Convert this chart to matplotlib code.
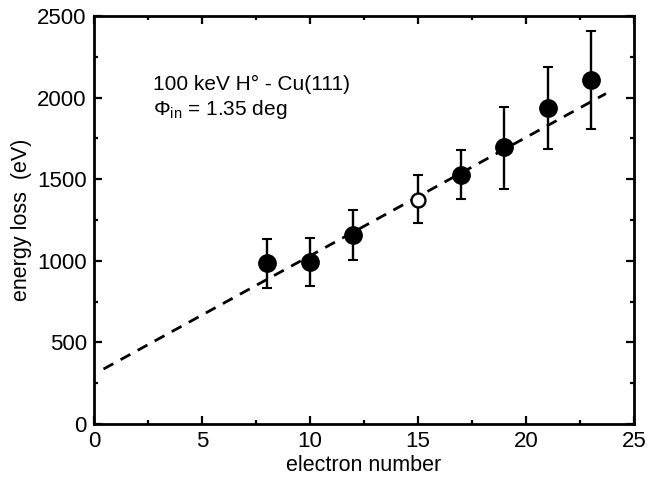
import matplotlib
matplotlib.use("Agg")
import matplotlib.pyplot as plt
import numpy as np
from matplotlib.ticker import MultipleLocator

# data
electrons = [8, 10, 12, 15, 17, 19, 21, 23]
eloss = [985, 995, 1155, 1375, 1525, 1695, 1935, 2110]
err_lo = [150, 150, 150, 145, 145, 255, 250, 300]
err_hi = [150, 145, 155, 150, 155, 245, 250, 300]
is_open = [False, False, False, True, False, False, False, False]

# dashed linear fit
fit_slope = 72.6
fit_icpt = 304
fit_range = [0.45, 23.7]

plt.rcParams['font.family'] = ['Liberation Sans', 'DejaVu Sans']
plt.rcParams['mathtext.fontset'] = 'custom'
plt.rcParams['mathtext.rm'] = 'Liberation Sans'
plt.rcParams['mathtext.it'] = 'Liberation Sans'

fig = plt.figure(figsize=(6.47, 4.84), dpi=100)
ax = fig.add_axes([0.145, 0.124, 0.835, 0.843])

xf = np.array(fit_range)
ax.plot(xf, fit_icpt + fit_slope * xf, ls=(0, (4, 3)), color='k', lw=2)

x = np.array(electrons)
y = np.array(eloss)
yerr = np.array([err_lo, err_hi])
ax.errorbar(x, y, yerr=yerr, fmt='none', ecolor='k', elinewidth=1.7,
            capsize=3.5, capthick=1.5)
for xi, yi, op in zip(electrons, eloss, is_open):
    ax.plot(xi, yi, 'o', ms=12.5 if not op else 10,
            mfc='white' if op else 'k', mec='k', mew=1.7 if op else 1)

ax.set_xlim(0, 25)
ax.set_ylim(0, 2500)
ax.xaxis.set_major_locator(MultipleLocator(5))
ax.xaxis.set_minor_locator(MultipleLocator(2.5))
ax.yaxis.set_major_locator(MultipleLocator(500))
ax.yaxis.set_minor_locator(MultipleLocator(250))
ax.tick_params(which='both', direction='in', top=True, right=True,
               width=1.6, labelsize=16)
ax.tick_params(which='major', length=6, pad=5)
ax.tick_params(which='minor', length=3)
for s in ax.spines.values():
    s.set_linewidth(2)

ax.set_xlabel('electron number', fontsize=15.5, labelpad=2)
ax.set_ylabel('energy loss  (eV)', fontsize=15.5, labelpad=4)

ax.text(2.73, 2047, '100 keV H° - Cu(111)', fontsize=15)
ax.text(2.73, 1893, r'$\Phi_{\rm in}$ = 1.35 deg', fontsize=15)

fig.savefig('out.png', dpi=100)
